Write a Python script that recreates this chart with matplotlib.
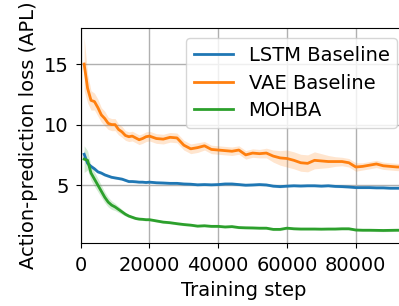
import matplotlib
matplotlib.use("Agg")
import matplotlib.pyplot as plt
import numpy as np

steps = [1000, 2000, 3000, 4000, 5000, 6000, 7000, 8000, 9000, 10000,
         11000, 12000, 13000, 14000, 15000, 16000, 17000, 18000, 19000, 20000,
         22000, 24000, 26000, 28000, 30000, 32000, 34000, 36000, 38000, 40000,
         42000, 44000, 46000, 48000, 50000, 52000, 54000, 56000, 58000, 60000,
         62000, 64000, 66000, 68000, 70000, 72000, 74000, 76000, 78000, 80000,
         82000, 84000, 86000, 88000, 90000, 92000, 94000, 95000]

lstm = [7.55, 6.8, 6.55, 6.35, 6.1, 6.0, 5.85, 5.75, 5.65, 5.6,
        5.55, 5.5, 5.4, 5.3, 5.3, 5.28, 5.25, 5.25, 5.22, 5.25,
        5.2, 5.18, 5.15, 5.15, 5.1, 5.08, 5.03, 5.05, 5.03, 5.05,
        5.1, 5.1, 5.05, 5.0, 5.02, 5.05, 5.02, 4.92, 4.88, 4.92,
        4.95, 4.93, 4.95, 4.95, 4.92, 4.95, 4.9, 4.88, 4.85, 4.8,
        4.8, 4.8, 4.78, 4.78, 4.75, 4.75, 4.75, 4.75]
lstm_sd = [0.35, 0.2, 0.15, 0.15, 0.12, 0.12, 0.12, 0.1, 0.1, 0.1,
           0.1, 0.1, 0.1, 0.1, 0.1, 0.1, 0.1, 0.1, 0.1, 0.1,
           0.1, 0.1, 0.1, 0.1, 0.1, 0.1, 0.1, 0.1, 0.1, 0.1,
           0.1, 0.1, 0.1, 0.1, 0.1, 0.1, 0.1, 0.1, 0.1, 0.1,
           0.1, 0.1, 0.1, 0.1, 0.1, 0.1, 0.1, 0.1, 0.1, 0.1,
           0.1, 0.1, 0.1, 0.1, 0.1, 0.1, 0.1, 0.1]

vae = [15.0, 13.0, 12.0, 11.9, 11.4, 10.8, 10.5, 10.1, 10.0, 10.0,
       9.6, 9.4, 9.1, 9.0, 9.05, 8.9, 8.75, 8.85, 9.0, 9.05,
       8.85, 8.8, 8.95, 8.9, 8.3, 8.0, 8.1, 8.25, 7.95, 7.9,
       7.85, 7.8, 7.9, 7.5, 7.65, 7.6, 7.65, 7.4, 7.25, 7.2,
       7.05, 6.85, 6.8, 7.05, 7.0, 6.95, 6.95, 6.95, 6.85, 6.5,
       6.55, 6.65, 6.75, 6.6, 6.55, 6.5, 6.5, 6.5]
vae_sd = [2.2, 1.2, 0.8, 0.7, 0.7, 0.6, 0.6, 0.5, 0.5, 0.5,
          0.45, 0.45, 0.4, 0.4, 0.4, 0.4, 0.4, 0.4, 0.4, 0.4,
          0.4, 0.4, 0.4, 0.4, 0.4, 0.4, 0.4, 0.35, 0.35, 0.35,
          0.35, 0.35, 0.35, 0.35, 0.35, 0.35, 0.4, 0.5, 0.6, 0.7,
          0.7, 0.7, 0.7, 0.7, 0.6, 0.5, 0.4, 0.35, 0.35, 0.35,
          0.3, 0.3, 0.3, 0.3, 0.3, 0.3, 0.3, 0.3]

mohba = [7.15, 7.05, 6.0, 5.5, 5.0, 4.5, 4.0, 3.6, 3.35, 3.2,
         3.0, 2.8, 2.6, 2.45, 2.35, 2.25, 2.2, 2.18, 2.15, 2.15,
         2.05, 1.95, 1.9, 1.82, 1.75, 1.7, 1.62, 1.65, 1.6, 1.6,
         1.55, 1.58, 1.5, 1.48, 1.47, 1.45, 1.45, 1.35, 1.35, 1.45,
         1.4, 1.38, 1.38, 1.38, 1.37, 1.38, 1.38, 1.4, 1.4, 1.3,
         1.28, 1.28, 1.27, 1.26, 1.27, 1.28, 1.28, 1.28]
mohba_sd = [1.1, 0.8, 0.6, 0.6, 0.55, 0.5, 0.45, 0.4, 0.35, 0.3,
            0.25, 0.2, 0.15, 0.12, 0.12, 0.1, 0.1, 0.1, 0.1, 0.1,
            0.1, 0.1, 0.1, 0.1, 0.1, 0.1, 0.1, 0.1, 0.1, 0.1,
            0.1, 0.1, 0.1, 0.1, 0.1, 0.1, 0.1, 0.1, 0.1, 0.1,
            0.1, 0.1, 0.1, 0.1, 0.1, 0.1, 0.1, 0.1, 0.1, 0.1,
            0.1, 0.1, 0.1, 0.1, 0.1, 0.1, 0.1, 0.1]

labels = ["LSTM Baseline", "VAE Baseline", "MOHBA"]
colors = ["#1f77b4", "#ff7f0e", "#2ca02c"]
xticks = [0, 20000, 40000, 60000, 80000]
yticks = [5, 10, 15]

plt.rcParams['font.family'] = ['DejaVu Sans']
fig = plt.figure(figsize=(3.99, 3.06), dpi=100)
L, B, T, R = 80.7, 242.7, 28.3, 407.0
ax = fig.add_axes([L/399, 1-B/306, (R-L)/399, (B-T)/306])

x = np.array(steps)
for mean, sd, lab, c in zip([lstm, vae, mohba], [lstm_sd, vae_sd, mohba_sd], labels, colors):
    m = np.array(mean); s = np.array(sd)
    ax.fill_between(x, m - s, m + s, color=c, alpha=0.2, linewidth=0)
    ax.plot(x, m, color=c, lw=2, label=lab)

fs = 14
ax.set_xlim(0, 94900)
ax.set_ylim(0.25, 17.95)
ax.set_xticks(xticks)
ax.set_yticks(yticks)
ax.grid(True, color="#b0b0b0", lw=1)
ax.set_axisbelow(True)
ax.tick_params(labelsize=fs, length=3.5)
ax.tick_params(axis='x', pad=6.3)
ax.tick_params(axis='y', pad=5.2)
ax.set_xlabel("Training step", fontsize=fs, labelpad=4)
ax.set_ylabel("Action-prediction loss (APL)", fontsize=fs)
ax.legend(loc="upper right", fontsize=fs, labelspacing=0.45)
fig.savefig("out.png", dpi=100)
